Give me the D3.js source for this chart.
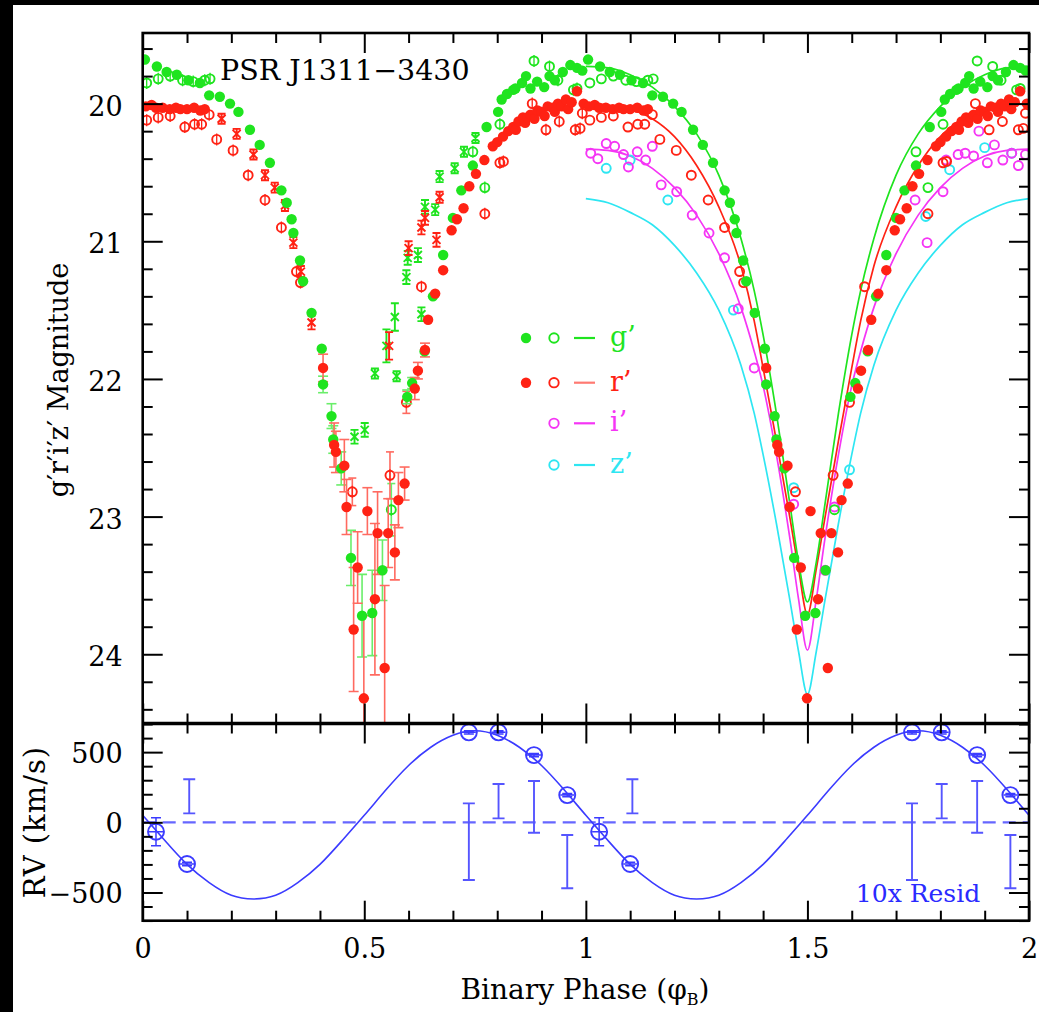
<!DOCTYPE html>
<html><head><meta charset="utf-8">
<script src="https://cdn.jsdelivr.net/npm/d3@7"></script>
<style>body{margin:0;background:#fff}svg{display:block}</style>
</head><body>
<svg id="c" width="1039" height="1012"></svg>
<script>
// ---------- DATA (phase 0-1; [phase, mag, err]) ----------
const gFilled=[[0.005,19.68],[0.032,19.73],[0.054,19.77],[0.077,19.79],[0.103,19.83],[0.129,19.85],[0.150,19.94],[0.174,19.95],[0.197,20.00],[0.216,20.06],[0.242,20.19],[0.264,20.30],[0.287,20.43],[0.313,20.63],[0.325,20.72],[0.336,20.84],[0.340,20.94],[0.355,21.14],[0.362,21.29],[0.381,21.52],[0.404,21.78],[0.407,22.04,0.06],[0.426,22.27,0.09],[0.430,22.44,0.1],[0.448,22.65,0.12],[0.470,23.30,0.2],[0.495,23.72,0.3],[0.518,23.70,0.31],[0.541,23.39,0.22],[0.597,22.13,0.05],[0.608,22.03,0.04],[0.636,21.80],[0.655,21.40],[0.678,21.10],[0.700,20.83],[0.719,20.63],[0.745,20.45],[0.776,20.17],[0.802,20.06],[0.810,19.97],[0.822,19.93],[0.836,19.90],[0.841,19.89],[0.856,19.85],[0.865,19.80],[0.875,19.89],[0.890,19.84],[0.906,19.88],[0.918,19.80],[0.930,19.83],[0.948,19.77],[0.965,19.72],[0.980,19.74],[0.992,19.76]];
const rFilled=[[0.007,20.02],[0.020,20.01],[0.030,20.03],[0.045,20.03],[0.061,20.04],[0.075,20.03],[0.085,20.04],[0.100,20.04],[0.116,20.03],[0.130,20.05],[0.140,20.04],[0.407,21.92,0.1],[0.432,22.48,0.16],[0.436,22.53,0.15],[0.455,22.63,0.19],[0.460,22.93,0.2],[0.476,23.82,0.45],[0.485,23.37,0.26],[0.499,24.32,0.6],[0.507,22.96,0.17],[0.524,23.60,0.55],[0.530,23.12,0.3],[0.546,24.10,0.6],[0.554,23.12,0.25],[0.569,23.26,0.2],[0.577,22.88,0.2],[0.591,22.76,0.12],[0.614,22.07,0.08],[0.621,21.94,0.06],[0.637,21.79,0.05],[0.644,21.57],[0.660,21.38],[0.678,21.21],[0.697,20.92],[0.709,20.84],[0.724,20.76],[0.737,20.60],[0.752,20.51],[0.771,20.41],[0.790,20.31],[0.800,20.28],[0.813,20.24],[0.825,20.20],[0.836,20.17],[0.842,20.19],[0.848,20.13],[0.858,20.10],[0.863,20.14],[0.868,20.10],[0.875,20.08],[0.884,20.11],[0.891,20.05],[0.900,20.06],[0.907,20.09],[0.914,20.02],[0.925,20.03],[0.930,20.06],[0.937,20.00],[0.945,20.02],[0.955,19.97],[0.960,20.04],[0.968,19.99],[0.980,19.91],[0.995,20.00]];
const gOpen=[[0.009,19.85],[0.035,19.82],[0.062,19.80],[0.090,19.83],[0.114,19.84],[0.140,19.83],[0.152,19.82],[0.561,22.95,0.19],[0.745,20.35],[0.772,20.61],[0.806,20.15],[0.883,19.69],[0.918,19.73],[0.937,19.83],[0.972,19.90],[0.980,19.89]];
const rOpen=[[0.009,20.12],[0.035,20.10],[0.062,20.09],[0.095,20.17],[0.117,20.15],[0.133,20.15],[0.150,20.08],[0.167,20.26],[0.204,20.34],[0.238,20.52],[0.276,20.70],[0.313,20.90],[0.347,21.22],[0.356,21.30],[0.473,22.82,0.1],[0.558,22.70,0.17],[0.595,22.17,0.08],[0.629,21.33],[0.772,20.80],[0.806,20.43],[0.814,20.42],[0.879,20.00],[0.910,20.19],[0.940,20.13],[0.976,20.19],[0.987,20.18],[0.992,20.07]];
const gCross=[[0.478,22.42,0.05],[0.501,22.37,0.05],[0.524,21.96,0.03],[0.550,21.76,0.12],[0.569,21.55,0.1],[0.573,21.98,0.03],[0.595,21.26,0.05],[0.598,21.12,0.05],[0.621,21.10,0.05],[0.629,21.53,0.05],[0.637,20.75,0.05],[0.660,20.77,0.04],[0.670,20.53,0.04],[0.704,20.47,0.03],[0.725,20.35,0.03],[0.751,20.25,0.03]];
const rCross=[[0.178,20.11,0.03],[0.212,20.22,0.03],[0.250,20.37,0.03],[0.276,20.52,0.03],[0.298,20.61,0.03],[0.321,20.74,0.04],[0.340,21.01,0.04],[0.357,21.22,0.04],[0.381,21.59,0.05],[0.556,21.76,0.1],[0.600,21.05,0.05],[0.629,20.90,0.05],[0.637,20.83,0.05],[0.663,20.99,0.05],[0.670,20.68,0.04]];
const iOpen=[[0.011,20.36],[0.027,20.40],[0.046,20.29],[0.065,20.31],[0.085,20.37],[0.096,20.46],[0.116,20.35],[0.135,20.41],[0.150,20.31],[0.170,20.59],[0.205,20.64],[0.240,20.81],[0.278,20.94],[0.313,21.12],[0.344,21.49],[0.380,21.92],[0.469,22.91],[0.540,23.39],[0.561,22.93],[0.743,20.70],[0.770,21.01],[0.806,20.64],[0.813,20.41],[0.840,20.37],[0.856,20.36],[0.875,20.38],[0.887,20.20],[0.906,20.43],[0.922,20.30],[0.941,20.41],[0.961,20.36],[0.976,20.45],[0.992,20.37]];
const zOpen=[[0.046,20.47],[0.100,20.41],[0.185,20.70],[0.333,21.50],[0.469,22.79],[0.595,22.66],[0.767,20.82],[0.821,20.48],[0.900,20.32],[0.961,20.36]];
// model light curves (phase 1-2)
const modelPhase=[1.00,1.05,1.10,1.15,1.20,1.25,1.30,1.35,1.38,1.40,1.43,1.46,1.48,1.50,1.52,1.54,1.57,1.60,1.62,1.65,1.70,1.75,1.80,1.85,1.90,1.95,2.00];
const gModel=[19.73,19.74,19.79,19.88,20.02,20.22,20.52,20.98,21.36,21.68,22.25,22.90,23.33,23.62,23.33,22.90,22.25,21.68,21.36,20.98,20.52,20.22,20.02,19.88,19.79,19.74,19.73];
const rModel=[20.00,20.01,20.04,20.11,20.24,20.45,20.75,21.18,21.58,21.92,22.45,23.00,23.38,23.71,23.38,23.00,22.45,21.92,21.58,21.18,20.75,20.45,20.24,20.11,20.04,20.01,20.00];
const iModel=[20.33,20.34,20.38,20.47,20.61,20.81,21.09,21.48,21.80,22.05,22.55,23.15,23.60,23.97,23.60,23.15,22.55,22.05,21.80,21.48,21.09,20.81,20.61,20.47,20.38,20.34,20.33];
const zModel=[20.69,20.72,20.79,20.88,21.03,21.23,21.50,21.90,22.25,22.55,23.05,23.60,23.98,24.29,23.98,23.60,23.05,22.55,22.25,21.90,21.50,21.23,21.03,20.88,20.79,20.72,20.69];
// radial velocities (phase 0-1, drawn twice)
const rvPhase=[0.030,0.100,0.736,0.803,0.883,0.958];
const rvVel=[-67,-297,641,641,479,194];
const rvErr=[100,12,12,12,12,12];
const residPhase=[0.105,0.736,0.803,0.883,0.958];
const residLo=[64,-411,28,-74,-470];
const residHi=[307,135,273,294,-90];
const rvCurvePhase=[0,0.05,0.10,0.15,0.20,0.25,0.30,0.35,0.40,0.45,0.50,0.55,0.60,0.65,0.70,0.75,0.80,0.85,0.90,0.95,1.00,1.05,1.10,1.15,1.20,1.25,1.30,1.35,1.40,1.45,1.50,1.55,1.60,1.65,1.70,1.75,1.80,1.85,1.90,1.95,2.00];
const rvCurveVel=[50,-130,-300,-430,-520,-546,-520,-430,-300,-130,50,235,405,535,620,652,620,535,405,235,50,-130,-300,-430,-520,-546,-520,-430,-300,-130,50,235,405,535,620,652,620,535,405,235,50];
const phaseLabels=[0,0.5,1,1.5,2];
const magLabels=[20,21,22,23,24];
const rvLabels=[-500,0,500];
const legendNames=["g’","r’","i’","z’"];

// ---------- LAYOUT ----------
const W=1039,H=1012,L=142.7,R=1029,T=33,M=723.5,B=920.7;
const FONT="DejaVu Serif";
const C={g:"#1fe41f",r:"#ff2214",i:"#f535f5",z:"#2ee6f2",b:"#3b3bff",
  gE:"#6aee6a",rE:"#ff6a60",rL:"#ff7a72"};
const svg=d3.select("#c");
svg.append("rect").attr("width",W).attr("height",H).attr("fill","#fff");
svg.append("rect").attr("width",W).attr("height",5).attr("fill","#000");
svg.append("rect").attr("width",13).attr("height",H).attr("fill","#000");

const x=d3.scaleLinear().domain([0,2]).range([L,R]);
const y=d3.scaleLinear().domain([19.487,24.503]).range([T,M]);
const yv=d3.scaleLinear().domain([704,-701]).range([M,B]);

const defs=svg.append("defs");
defs.append("clipPath").attr("id","ct").append("rect").attr("x",L).attr("y",T).attr("width",R-L).attr("height",M-T);
defs.append("clipPath").attr("id","cb").append("rect").attr("x",L).attr("y",M).attr("width",R-L).attr("height",B-M);

// ---------- TOP PANEL ----------
const topG=svg.append("g").attr("clip-path","url(#ct)");
const line=d3.line().x(d=>x(d[0])).y(d=>y(d[1])).curve(d3.curveMonotoneX);
[[zModel,C.z],[iModel,C.i],[rModel,C.r],[gModel,C.g]].forEach(([m,c])=>{
  topG.append("path").attr("d",line(modelPhase.map((p,k)=>[p,m[k]])))
    .attr("fill","none").attr("stroke",c).attr("stroke-width",1.7);
});
function twice(arr){return arr.map(d=>({p:d[0],m:d[1],e:d[2]||0,first:true}))
  .concat(arr.map(d=>({p:d[0]+1,m:d[1],e:0,first:false})));}
function once(arr,off){return arr.map(d=>({p:d[0]+off,m:d[1],e:d[2]||0,first:true}));}
function errBars(g,data,color,cap){
  data.filter(d=>d.e>0).forEach(d=>{
    const cx=x(d.p),y1=y(d.m-d.e),y2=y(d.m+d.e);
    g.append("line").attr("x1",cx).attr("x2",cx).attr("y1",y1).attr("y2",y2).attr("stroke",color).attr("stroke-width",1.6);
    [y1,y2].forEach(yy=>g.append("line").attr("x1",cx-cap).attr("x2",cx+cap).attr("y1",yy).attr("y2",yy).attr("stroke",color).attr("stroke-width",1.6));
  });
}
function openPts(g,data,color,bar){
  g.selectAll(null).data(data).join("circle").attr("cx",d=>x(d.p)).attr("cy",d=>y(d.m)).attr("r",4.5)
    .attr("fill","none").attr("stroke",color).attr("stroke-width",1.9);
  if(bar) g.selectAll(null).data(data.filter(d=>d.first)).join("line")
    .attr("x1",d=>x(d.p)).attr("x2",d=>x(d.p)).attr("y1",d=>y(d.m)-6).attr("y2",d=>y(d.m)+6)
    .attr("stroke",color).attr("stroke-width",1.3);
}
function filledPts(g,data,color){
  g.selectAll(null).data(data).join("circle").attr("cx",d=>x(d.p)).attr("cy",d=>y(d.m)).attr("r",5.2).attr("fill",color);
}
function crossPts(g,data,color){
  data.forEach(d=>{
    const cx=x(d.p),cy=y(d.m),s=4,h=Math.max(y(d.m+d.e)-cy,5);
    g.append("path").attr("d",`M${cx-s},${cy-s}L${cx+s},${cy+s}M${cx-s},${cy+s}L${cx+s},${cy-s}M${cx},${cy-h}L${cx},${cy+h}M${cx-s},${cy-h}L${cx+s},${cy-h}M${cx-s},${cy+h}L${cx+s},${cy+h}`)
      .attr("stroke",color).attr("stroke-width",1.9).attr("fill","none");
  });
}
const zD=once(zOpen,1), iD=once(iOpen,1);
openPts(topG,zD,C.z,false);
openPts(topG,iD,C.i,false);
const gO=twice(gOpen), rO=twice(rOpen);
errBars(topG,gO,C.gE,4); errBars(topG,rO,C.rE,4);
openPts(topG,gO,C.g,true); openPts(topG,rO,C.r,true);
crossPts(topG,once(gCross,0),C.g);
crossPts(topG,once(rCross,0),C.r);
const gF=twice(gFilled), rF=twice(rFilled);
errBars(topG,gF,C.gE,5); errBars(topG,rF,C.rE,5);
filledPts(topG,gF,C.g); filledPts(topG,rF,C.r);

// ---------- BOTTOM PANEL ----------
const botG=svg.append("g").attr("clip-path","url(#cb)");
botG.append("line").attr("x1",L).attr("x2",R).attr("y1",yv(0)).attr("y2",yv(0))
  .attr("stroke","#6666ff").attr("stroke-width",2.2).attr("stroke-dasharray","13,7");
const rvLine=d3.line().x(d=>x(d[0])).y(d=>yv(d[1])).curve(d3.curveNatural);
botG.append("path").attr("d",rvLine(rvCurvePhase.map((p,k)=>[p,rvCurveVel[k]])))
  .attr("fill","none").attr("stroke",C.b).attr("stroke-width",1.6);
[0,1].forEach(off=>{
  residPhase.forEach((p,k)=>{
    const cx=x(p+off),y1=yv(residHi[k]),y2=yv(residLo[k]);
    botG.append("path").attr("d",`M${cx},${y1}L${cx},${y2}M${cx-6},${y1}L${cx+6},${y1}M${cx-6},${y2}L${cx+6},${y2}`)
      .attr("stroke","#5555ff").attr("stroke-width",1.9).attr("fill","none");
  });
  rvPhase.forEach((p,k)=>{
    const cx=x(p+off),cy=yv(rvVel[k]),e1=yv(rvVel[k]+rvErr[k]),e2=yv(rvVel[k]-rvErr[k]);
    botG.append("path").attr("d",`M${cx},${e1}L${cx},${e2}M${cx-5},${e1}L${cx+5},${e1}M${cx-5},${e2}L${cx+5},${e2}M${cx-7},${cy}L${cx+7},${cy}`)
      .attr("stroke",C.b).attr("stroke-width",1.5).attr("fill","none");
    botG.append("circle").attr("cx",cx).attr("cy",cy).attr("r",8).attr("fill","none").attr("stroke",C.b).attr("stroke-width",1.9);
  });
});
svg.append("text").attr("x",918).attr("y",902).attr("text-anchor","middle")
  .attr("font-family",FONT).attr("font-size",25).attr("fill","#2a2aff").text("10x Resid");

// ---------- AXES ----------
const axG=svg.append("g");
function addAxis(axis,tx,ty,labels){
  const g=axG.append("g").attr("transform",`translate(${tx},${ty})`).call(axis);
  g.select(".domain").remove();
  g.selectAll(".tick line").attr("stroke","#000").attr("stroke-width",2);
  g.selectAll("text").attr("font-family",FONT).attr("font-size",27).attr("fill","#000");
  if(!labels) g.selectAll("text").remove();
  return g;
}
const phMinor=d3.range(0,2.001,0.1).map(v=>+v.toFixed(2)).filter(v=>phaseLabels.indexOf(v)<0);
const magMinor=d3.range(19.6,24.51,0.2).map(v=>+v.toFixed(2)).filter(v=>magLabels.indexOf(v)<0);
const rvMinor=d3.range(-700,701,100).filter(v=>rvLabels.indexOf(v)<0);
[[d3.axisTop(x),T],[d3.axisBottom(x),M],[d3.axisTop(x),M],[d3.axisBottom(x),B]].forEach(([a,ty])=>{
  addAxis(a.tickValues(phMinor).tickSize(-10).tickFormat(""),0,ty,false);
});
[[d3.axisTop(x),T],[d3.axisBottom(x),M],[d3.axisTop(x),M]].forEach(([a,ty])=>{
  addAxis(a.tickValues(phaseLabels).tickSize(-20).tickFormat(""),0,ty,false);
});
const xb=addAxis(d3.axisBottom(x).tickValues(phaseLabels).tickSize(-20).tickPadding(16).tickFormat(d=>String(d)),0,B,true);
xb.selectAll("text").attr("dy","0").attr("y",37);
addAxis(d3.axisLeft(y).tickValues(magMinor).tickSize(-10).tickFormat(""),L,0,false);
addAxis(d3.axisRight(y).tickValues(magMinor).tickSize(-10).tickFormat(""),R,0,false);
addAxis(d3.axisRight(y).tickValues(magLabels).tickSize(-20).tickFormat(""),R,0,false);
const yl=addAxis(d3.axisLeft(y).tickValues(magLabels).tickSize(-20).tickPadding(20).tickFormat(d=>String(d)),L,0,true);
yl.selectAll("text").attr("dy","11.5");
addAxis(d3.axisLeft(yv).tickValues(rvMinor).tickSize(-10).tickFormat(""),L,0,false);
addAxis(d3.axisRight(yv).tickValues(rvMinor).tickSize(-10).tickFormat(""),R,0,false);
addAxis(d3.axisRight(yv).tickValues(rvLabels).tickSize(-20).tickFormat(""),R,0,false);
const vl=addAxis(d3.axisLeft(yv).tickValues(rvLabels).tickSize(-20).tickPadding(20).tickFormat(d=>d<0?"−"+Math.abs(d):String(d)),L,0,true);
vl.selectAll("text").attr("dy","10.5");
svg.append("rect").attr("x",L).attr("y",T).attr("width",R-L).attr("height",B-T)
  .attr("fill","none").attr("stroke","#000").attr("stroke-width",2.6);
svg.append("line").attr("x1",L).attr("x2",R).attr("y1",M).attr("y2",M).attr("stroke","#000").attr("stroke-width",3.6);

// ---------- TEXT ----------
svg.append("text").attr("x",220).attr("y",80).attr("font-family",FONT).attr("font-size",28.5).attr("fill","#000").text("PSR J1311−3430");
svg.append("text").attr("transform","translate(68,380) rotate(-90)").attr("text-anchor","middle")
  .attr("font-family",FONT).attr("font-size",27).attr("fill","#000").text("g′r′i′z′ Magnitude");
svg.append("text").attr("transform","translate(45,822) rotate(-90)").attr("text-anchor","middle")
  .attr("font-family",FONT).attr("font-size",29).attr("letter-spacing",1).attr("fill","#000").text("RV (km/s)");
const xt=svg.append("text").attr("x",585).attr("y",999).attr("text-anchor","middle")
  .attr("font-family",FONT).attr("font-size",28).attr("fill","#000");
xt.append("tspan").text("Binary Phase (φ");
xt.append("tspan").attr("font-size",16).attr("dy",6).text("B");
xt.append("tspan").attr("dy",-6).text(")");

// ---------- LEGEND ----------
const legY=[338,382.7,423.3,465];
const legC=[C.g,C.r,C.i,C.z];
const legLine=[C.g,C.rL,C.i,C.z];
legendNames.forEach((nm,k)=>{
  const ly=legY[k];
  if(k<2) svg.append("circle").attr("cx",526).attr("cy",ly).attr("r",5.2).attr("fill",legC[k]);
  svg.append("circle").attr("cx",554).attr("cy",ly).attr("r",4.7).attr("fill","none").attr("stroke",legC[k]).attr("stroke-width",1.9);
  svg.append("line").attr("x1",574).attr("x2",595).attr("y1",ly).attr("y2",ly).attr("stroke",legLine[k]).attr("stroke-width",2.2);
  svg.append("text").attr("x",610).attr("y",ly+8).attr("font-family",FONT).attr("font-size",27).attr("fill",legC[k]).text(nm);
});
</script>
</body></html>
